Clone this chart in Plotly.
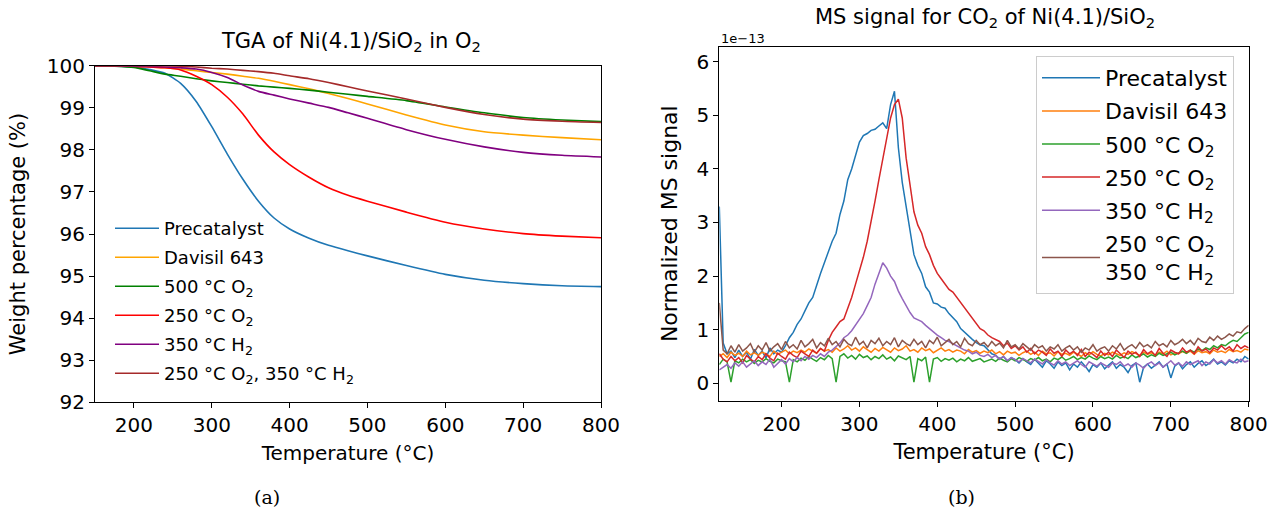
import plotly.graph_objects as go

# ---------------- TGA data (left panel) ----------------
tga_temp = [150, 175, 200, 220, 240, 260, 280, 300, 320, 340, 360, 380, 400,
            425, 450, 475, 500, 550, 600, 650, 700, 750, 800]
tga_precatalyst = [100.0, 99.99, 99.97, 99.91, 99.82, 99.58, 99.15, 98.55, 97.90, 97.30, 96.78, 96.38, 96.12,
                   95.90, 95.73, 95.60, 95.48, 95.25, 95.04, 94.90, 94.82, 94.77, 94.75]
tga_davisil = [100.0, 100.0, 99.99, 99.97, 99.95, 99.92, 99.88, 99.84, 99.80, 99.75, 99.70, 99.63, 99.55,
               99.45, 99.34, 99.22, 99.09, 98.83, 98.59, 98.43, 98.35, 98.29, 98.24]
tga_500o2 = [100.0, 99.99, 99.96, 99.88, 99.80, 99.75, 99.69, 99.64, 99.60, 99.56, 99.52, 99.49, 99.46,
             99.42, 99.37, 99.32, 99.27, 99.17, 99.02, 98.88, 98.77, 98.71, 98.67]
tga_250o2 = [100.0, 100.0, 99.99, 99.97, 99.95, 99.90, 99.75, 99.55, 99.25, 98.85, 98.35, 97.95, 97.65,
             97.35, 97.10, 96.92, 96.78, 96.52, 96.28, 96.12, 96.01, 95.95, 95.91]
tga_350h2 = [100.0, 100.0, 99.99, 99.98, 99.97, 99.95, 99.92, 99.84, 99.72, 99.54, 99.39, 99.30, 99.21,
             99.11, 99.01, 98.88, 98.75, 98.48, 98.25, 98.07, 97.94, 97.87, 97.83]
tga_250o2_350h2 = [100.0, 100.0, 100.0, 100.0, 100.0, 99.99, 99.97, 99.94, 99.92, 99.89, 99.86, 99.82, 99.76,
                   99.69, 99.60, 99.50, 99.40, 99.21, 99.01, 98.84, 98.73, 98.68, 98.65]

tga_names = ["Precatalyst", "Davisil 643", "500 °C O<sub>2</sub>", "250 °C O<sub>2</sub>",
             "350 °C H<sub>2</sub>", "250 °C O<sub>2</sub>, 350 °C H<sub>2</sub>"]
tga_colors = ["#1f77b4", "#ffa500", "#008000", "#ff0000", "#800080", "#a52a2a"]

# ---------------- MS data (right panel), units of 1e-13 ----------------
ms_temp = list(range(120, 805, 5))  # sampling grid 120..800 °C
ms_precatalyst = [
    3.30, 0.75, 0.55, 0.60, 0.48, 0.62, 0.50, 0.58, 0.45, 0.63,   # 120-165
    0.52, 0.60, 0.47, 0.66, 0.55, 0.62, 0.58, 0.70, 0.85, 0.95,   # 170-215
    1.10, 1.20, 1.35, 1.50, 1.60, 1.85, 2.05, 2.25, 2.45, 2.65,   # 220-265
    2.80, 3.15, 3.40, 3.80, 4.00, 4.25, 4.50, 4.62, 4.66, 4.72,   # 270-315
    4.74, 4.80, 4.86, 4.75, 5.20, 5.45, 4.40, 3.75, 3.30, 2.85,   # 320-365
    2.40, 2.20, 2.05, 1.80, 1.70, 1.50, 1.48, 1.42, 1.40, 1.30,   # 370-415
    1.22, 1.15, 1.02, 0.95, 0.88, 0.82, 0.76, 0.72, 0.70, 0.62,   # 420-465
    0.55, 0.52, 0.45, 0.50, 0.42, 0.48, 0.44, 0.38, 0.46, 0.40,   # 470-515
    0.35, 0.45, 0.38, 0.30, 0.42, 0.36, 0.28, 0.40, 0.33, 0.38,   # 520-565
    0.25, 0.36, 0.30, 0.40, 0.32, 0.22, 0.35, 0.30, 0.38, 0.27,   # 570-615
    0.34, 0.40, 0.28, 0.35, 0.30, 0.20, 0.33, 0.38, 0.02, 0.30,   # 620-665
    0.36, 0.28, 0.34, 0.40, 0.30, 0.36, 0.10, 0.32, 0.38, 0.27,   # 670-715
    0.35, 0.40, 0.30, 0.37, 0.42, 0.33, 0.38, 0.45, 0.36, 0.40,   # 720-765
    0.34, 0.42, 0.38, 0.45, 0.40, 0.50, 0.45]                     # 770-800
ms_davisil = [
    0.50, 0.55, 0.48, 0.58, 0.52, 0.56, 0.50, 0.60, 0.53, 0.57,
    0.52, 0.58, 0.55, 0.50, 0.60, 0.54, 0.58, 0.62, 0.55, 0.60,
    0.57, 0.62, 0.58, 0.64, 0.60, 0.56, 0.65, 0.60, 0.63, 0.58,
    0.66, 0.60, 0.64, 0.70, 0.62, 0.66, 0.60, 0.68, 0.63, 0.58,
    0.65, 0.60, 0.67, 0.62, 0.58, 0.66, 0.61, 0.64, 0.70, 0.60,
    0.63, 0.58, 0.66, 0.61, 0.64, 0.57, 0.62, 0.66, 0.60, 0.63,
    0.58, 0.62, 0.60, 0.55, 0.63, 0.58, 0.61, 0.56, 0.60, 0.57,
    0.62, 0.55, 0.59, 0.53, 0.60, 0.56, 0.58, 0.52, 0.57, 0.60,
    0.54, 0.58, 0.52, 0.60, 0.55, 0.57, 0.51, 0.59, 0.54, 0.56,
    0.52, 0.58, 0.55, 0.50, 0.57, 0.53, 0.59, 0.54, 0.51, 0.56,
    0.53, 0.58, 0.55, 0.52, 0.57, 0.54, 0.59, 0.55, 0.52, 0.58,
    0.54, 0.57, 0.52, 0.58, 0.55, 0.60, 0.53, 0.57, 0.55, 0.59,
    0.56, 0.60, 0.54, 0.61, 0.57, 0.59, 0.55, 0.62, 0.58, 0.60,
    0.57, 0.63, 0.59, 0.61, 0.58, 0.64, 0.62]
ms_500o2 = [
    0.35, 0.45, 0.40, 0.02, 0.42, 0.38, 0.45, 0.40, 0.44, 0.37,
    0.43, 0.40, 0.46, 0.41, 0.38, 0.45, 0.42, 0.40, 0.02, 0.44,
    0.40, 0.47, 0.43, 0.50, 0.45, 0.41, 0.48, 0.44, 0.52, 0.46,
    0.02, 0.50, 0.55, 0.47, 0.52, 0.45, 0.54, 0.48, 0.51, 0.44,
    0.50, 0.46, 0.53, 0.45, 0.49, 0.42, 0.51, 0.47, 0.44, 0.50,
    0.02, 0.46, 0.42, 0.49, 0.02, 0.45, 0.48, 0.41, 0.46, 0.43,
    0.47, 0.40, 0.45, 0.42, 0.48, 0.41, 0.44, 0.46, 0.40, 0.43,
    0.45, 0.41, 0.47, 0.43, 0.40, 0.46, 0.42, 0.48, 0.44, 0.41,
    0.46, 0.43, 0.48, 0.42, 0.45, 0.40, 0.47, 0.44, 0.49, 0.43,
    0.46, 0.50, 0.44, 0.48, 0.45, 0.51, 0.47, 0.44, 0.50, 0.46,
    0.49, 0.45, 0.52, 0.47, 0.50, 0.46, 0.53, 0.48, 0.51, 0.55,
    0.49, 0.53, 0.50, 0.56, 0.52, 0.55, 0.58, 0.53, 0.57, 0.60,
    0.56, 0.62, 0.58, 0.64, 0.61, 0.66, 0.63, 0.70, 0.66, 0.72,
    0.70, 0.76, 0.80, 0.78, 0.85, 0.92, 0.95]
ms_250o2 = [
    0.55, 0.45, 0.40, 0.50, 0.42, 0.48, 0.38, 0.52, 0.45, 0.40,
    0.50, 0.44, 0.55, 0.47, 0.42, 0.56, 0.50, 0.45, 0.58, 0.52,
    0.48, 0.60, 0.55, 0.50, 0.62, 0.56, 0.65, 0.60, 0.80, 0.95,
    1.05, 1.15, 1.20, 1.40, 1.60, 1.85, 2.10, 2.35, 2.65, 3.00,
    3.40, 3.80, 4.20, 4.55, 4.95, 5.20, 5.30, 4.95, 4.20, 3.70,
    3.20, 2.95, 2.80, 2.55, 2.40, 2.20, 2.05, 1.95, 1.85, 1.75,
    1.70, 1.60, 1.50, 1.40, 1.30, 1.20, 1.10, 1.02, 0.98, 0.90,
    0.85, 0.82, 0.78, 0.70, 0.75, 0.65, 0.70, 0.62, 0.68, 0.58,
    0.65, 0.55, 0.62, 0.58, 0.52, 0.64, 0.56, 0.60, 0.50, 0.62,
    0.55, 0.60, 0.52, 0.63, 0.50, 0.58, 0.54, 0.48, 0.60, 0.52,
    0.58, 0.50, 0.62, 0.55, 0.48, 0.60, 0.54, 0.58, 0.50, 0.63,
    0.55, 0.60, 0.52, 0.65, 0.56, 0.50, 0.62, 0.58, 0.55, 0.66,
    0.58, 0.62, 0.55, 0.68, 0.60, 0.64, 0.57, 0.66, 0.62, 0.70,
    0.63, 0.68, 0.60, 0.72, 0.65, 0.70, 0.66]
ms_350h2 = [
    0.25, 0.30, 0.35, 0.28, 0.38, 0.32, 0.40, 0.30, 0.36, 0.42,
    0.33, 0.40, 0.35, 0.45, 0.30, 0.38, 0.44, 0.36, 0.46, 0.40,
    0.48, 0.42, 0.50, 0.45, 0.52, 0.48, 0.55, 0.50, 0.58, 0.62,
    0.68, 0.75, 0.85, 0.90, 0.98, 1.08, 1.20, 1.30, 1.45, 1.60,
    1.85, 2.05, 2.25, 2.15, 2.00, 1.90, 1.72, 1.58, 1.45, 1.32,
    1.22, 1.18, 1.15, 1.08, 1.02, 0.95, 0.90, 0.85, 0.80, 0.78,
    0.74, 0.70, 0.65, 0.62, 0.60, 0.55, 0.58, 0.52, 0.50, 0.54,
    0.48, 0.52, 0.45, 0.50, 0.42, 0.48, 0.44, 0.40, 0.46, 0.42,
    0.38, 0.45, 0.40, 0.36, 0.44, 0.38, 0.34, 0.42, 0.36, 0.40,
    0.33, 0.38, 0.42, 0.35, 0.30, 0.40, 0.36, 0.32, 0.38, 0.34,
    0.30, 0.38, 0.35, 0.40, 0.32, 0.36, 0.30, 0.38, 0.34, 0.28,
    0.36, 0.40, 0.33, 0.38, 0.30, 0.36, 0.42, 0.34, 0.38, 0.32,
    0.40, 0.35, 0.38, 0.42, 0.33, 0.40, 0.36, 0.44, 0.38, 0.42,
    0.36, 0.44, 0.40, 0.38, 0.45, 0.40, 0.42]
ms_250o2_350h2 = [
    1.50, 0.62, 0.55, 0.70, 0.58, 0.72, 0.60, 0.66, 0.74, 0.58,
    0.70, 0.62, 0.76, 0.60, 0.68, 0.74, 0.63, 0.78, 0.66, 0.72,
    0.64, 0.80, 0.68, 0.74, 0.82, 0.66, 0.76, 0.70, 0.84, 0.72,
    0.78, 0.68, 0.82, 0.74, 0.70, 0.86, 0.72, 0.78, 0.66, 0.80,
    0.74, 0.84, 0.70, 0.78, 0.72, 0.85, 0.68, 0.80, 0.74, 0.70,
    0.82, 0.72, 0.78, 0.66, 0.80, 0.74, 0.86, 0.70, 0.76, 0.82,
    0.72, 0.78, 0.68, 0.84, 0.74, 0.70, 0.80, 0.72, 0.76, 0.68,
    0.78, 0.70, 0.75, 0.66, 0.80, 0.68, 0.72, 0.64, 0.74, 0.68,
    0.62, 0.72, 0.66, 0.70, 0.60, 0.68, 0.64, 0.72, 0.60, 0.66,
    0.70, 0.62, 0.68, 0.58, 0.66, 0.62, 0.72, 0.60, 0.65, 0.68,
    0.60, 0.70, 0.64, 0.74, 0.62, 0.68, 0.72, 0.65, 0.76, 0.68,
    0.72, 0.66, 0.78, 0.70, 0.74, 0.68, 0.80, 0.72, 0.76, 0.82,
    0.74, 0.80, 0.72, 0.84, 0.78, 0.76, 0.86, 0.80, 0.88, 0.82,
    0.86, 0.92, 0.88, 0.96, 0.94, 1.02, 1.08]

ms_names = ["Precatalyst", "Davisil 643", "500 °C O<sub>2</sub>", "250 °C O<sub>2</sub>",
            "350 °C H<sub>2</sub>", "250 °C O<sub>2</sub><br>350 °C H<sub>2</sub>"]
ms_colors = ["#1f77b4", "#ff7f0e", "#2ca02c", "#d62728", "#9467bd", "#8c564b"]

W, H = 1273, 515
FONT = "DejaVu Sans"

fig = go.Figure()

tga_series = [tga_precatalyst, tga_davisil, tga_500o2, tga_250o2, tga_350h2, tga_250o2_350h2]
for i, (name, col, ys) in enumerate(zip(tga_names, tga_colors, tga_series)):
    fig.add_trace(go.Scatter(x=tga_temp, y=ys, name=name, mode="lines",
                             line=dict(color=col, width=1.6, shape="spline", smoothing=0.6),
                             xaxis="x", yaxis="y", legend="legend", legendgroup="a%d" % i))

ms_series = [ms_precatalyst, ms_davisil, ms_500o2, ms_250o2, ms_350h2, ms_250o2_350h2]
for i, (name, col, ys) in enumerate(zip(ms_names, ms_colors, ms_series)):
    fig.add_trace(go.Scatter(x=ms_temp, y=ys, name=name, mode="lines",
                             line=dict(color=col, width=1.5),
                             xaxis="x2", yaxis="y2", legend="legend2", legendgroup="b%d" % i))

def px_x(p):
    return p / W

def px_y(p):
    return 1 - p / H

axis_common = dict(showgrid=False, zeroline=False, showline=True, mirror=True,
                   linecolor="black", linewidth=1, ticks="outside", ticklen=5,
                   tickwidth=1, tickcolor="black", automargin=False)

fig.update_layout(
    width=W, height=H,
    margin=dict(l=0, r=0, t=0, b=0, autoexpand=False),
    paper_bgcolor="white", plot_bgcolor="white",
    font=dict(family=FONT, color="black"),
    xaxis=dict(domain=[px_x(95), px_x(601)], range=[150, 800], anchor="y",
               tickvals=[200, 300, 400, 500, 600, 700, 800],
               tickfont=dict(size=20),
               title=dict(text="Temperature (°C)", font=dict(size=20), standoff=9),
               **axis_common),
    yaxis=dict(domain=[px_y(402.3), px_y(65.7)], range=[92, 100], anchor="x",
               tickvals=[92, 93, 94, 95, 96, 97, 98, 99, 100],
               tickfont=dict(size=20),
               title=dict(text="Weight percentage (%)", font=dict(size=21), standoff=15),
               **axis_common),
    xaxis2=dict(domain=[px_x(719.3), px_x(1248.7)], range=[120, 800], anchor="y2",
                tickvals=[200, 300, 400, 500, 600, 700, 800],
                tickfont=dict(size=20),
                title=dict(text="Temperature (°C)", font=dict(size=21), standoff=9),
                **axis_common),
    yaxis2=dict(domain=[px_y(400.7), px_y(46.7)], range=[-0.325, 6.28], anchor="x2",
                tickvals=[0, 1, 2, 3, 4, 5, 6],
                tickfont=dict(size=20),
                title=dict(text="Normalized MS signal", font=dict(size=22), standoff=12),
                **axis_common),
    legend=dict(x=px_x(110), y=px_y(210), xanchor="left", yanchor="top",
                bgcolor="rgba(0,0,0,0)", borderwidth=0, itemwidth=44,
                font=dict(size=18, family=FONT), tracegroupgap=2.6),
    legend2=dict(x=px_x(1036), y=px_y(56), xanchor="left", yanchor="top",
                 bgcolor="rgba(255,255,255,0.8)", bordercolor="#cccccc", borderwidth=1,
                 itemwidth=58, font=dict(size=22, family=FONT), tracegroupgap=1.5),
    showlegend=True,
)

annotations = [
    dict(text="TGA of Ni(4.1)/SiO<sub>2</sub> in O<sub>2</sub>", x=px_x(351), y=px_y(42),
         xref="paper", yref="paper", showarrow=False, xanchor="center", yanchor="middle",
         font=dict(size=21, family=FONT)),
    dict(text="MS signal for CO<sub>2</sub> of Ni(4.1)/SiO<sub>2</sub>", x=px_x(985), y=px_y(18),
         xref="paper", yref="paper", showarrow=False, xanchor="center", yanchor="middle",
         font=dict(size=21, family=FONT)),
    dict(text="1e−13", x=px_x(719), y=px_y(39), xref="paper", yref="paper", showarrow=False,
         xanchor="left", yanchor="middle", font=dict(size=13, family=FONT)),
    dict(text="(a)", x=px_x(267), y=px_y(497), xref="paper", yref="paper", showarrow=False,
         xanchor="center", yanchor="middle", font=dict(size=19, family="DejaVu Serif")),
    dict(text="(b)", x=px_x(961), y=px_y(497), xref="paper", yref="paper", showarrow=False,
         xanchor="center", yanchor="middle", font=dict(size=19, family="DejaVu Serif")),
]
fig.update_layout(annotations=annotations)

fig.write_html("out.html")
